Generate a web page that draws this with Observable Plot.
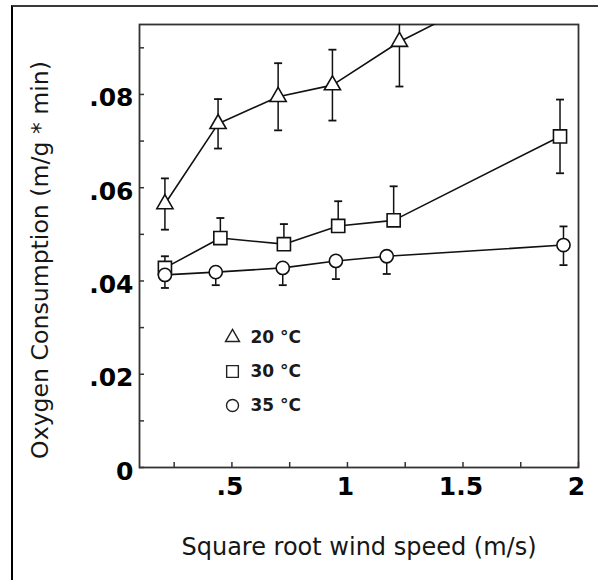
<!DOCTYPE html>
<html>
<head>
<meta charset="utf-8">
<script src="https://cdn.jsdelivr.net/npm/d3@7"></script>
<script src="https://cdn.jsdelivr.net/npm/@observablehq/plot@0.6"></script>
<style>
  body { margin: 0; background: #fff; }
  #chart { position: relative; width: 598px; height: 580px; overflow: hidden; background: #fff; }
  #chart svg { position: absolute; }
  .edge { position: absolute; left: 11px; top: 5px; width: 700px; height: 700px;
          border-left: 2px solid #000; border-top: 2px solid #3a3a3a; pointer-events: none; }
</style>
</head>
<body>
<div id="chart"></div>
<script>
// Oxygen consumption versus square root of wind speed, three air temperatures
const temps = ["20 °C", "30 °C", "35 °C"];

const speed20 = [0.21, 0.44, 0.70, 0.935, 1.225, 1.93];
const oxy20   = [0.0565, 0.0737, 0.0795, 0.0820, 0.0913, 0.109];
const up20    = [0.0055, 0.0053, 0.0072, 0.0076, 0.0096, 0.0100];
const down20  = [0.0055, 0.0053, 0.0072, 0.0076, 0.0096, 0.0100];

const speed30 = [0.21, 0.45, 0.725, 0.96, 1.20, 1.92];
const oxy30   = [0.0428, 0.0492, 0.0479, 0.0518, 0.0530, 0.0710];
const up30    = [0.0025, 0.0043, 0.0043, 0.0053, 0.0073, 0.0079];
const down30  = [0, 0, 0, 0, 0, 0.0079];

const speed35 = [0.21, 0.43, 0.72, 0.95, 1.17, 1.935];
const oxy35   = [0.0413, 0.0419, 0.0428, 0.0443, 0.0453, 0.0477];
const up35    = [0, 0, 0, 0, 0, 0.0040];
const down35  = [0.0028, 0.0028, 0.0037, 0.0039, 0.0038, 0.0043];

const xMajor = [0.5, 1, 1.5, 2];
const xMinor = [0.25, 0.75, 1.25, 1.75];
const yMajor = [0, 0.02, 0.04, 0.06, 0.08];
const yMinor = [0.01, 0.03, 0.05, 0.07, 0.09];

const xTitle = "Square root wind speed (m/s)";
const yTitle = "Oxygen Consumption (m/g * min)";

const series = [
  {temp: temps[0], x: speed20, y: oxy20, up: up20, down: down20},
  {temp: temps[1], x: speed30, y: oxy30, up: up30, down: down30},
  {temp: temps[2], x: speed35, y: oxy35, up: up35, down: down35}
];
const rows = series.flatMap(s => s.x.map((x, i) => ({
  temp: s.temp, x, y: s.y[i], hi: s.y[i] + s.up[i], lo: s.y[i] - s.down[i]
})));

// marker style per temperature
const look = {
  [temps[0]]: {symbol: "triangle", r: 6.0, legendR: 5.2},
  [temps[1]]: {symbol: "square", r: 7.4, legendR: 6.6},
  [temps[2]]: {symbol: "circle", r: 6.6, legendR: 6.0}
};

// short horizontal stroke used as an error-bar cap
const cap = {
  draw(context, size) {
    const w = Math.sqrt(size) / 2;
    context.moveTo(-w, 0);
    context.lineTo(w, 0);
  }
};

const ink = "#111";
const tick = 5;
const numFont = {fontFamily: "DejaVu Sans", fontWeight: "bold", fontSize: 25, fill: "#000"};
const titleFont = {fontFamily: "DejaVu Sans", fontSize: 24, fill: "#161616"};
const yFormat = d => d === 0 ? "0" : d3.format(".2f")(d).replace(/^0/, "");
const xFormat = d => d < 1 ? d3.format(".1f")(d).replace(/^0/, "") : String(d);

const chart = Plot.plot({
  width: 598,
  height: 580,
  marginLeft: 139,
  marginRight: 20,
  marginTop: 24,
  marginBottom: 113,
  style: {background: "transparent", fontFamily: "DejaVu Sans"},
  x: {domain: [0.1, 2]},
  y: {domain: [0, 0.095]},
  marks: [
    // tick marks, shifted so they sit just inside the frame
    Plot.axisX([...xMajor, ...xMinor], {tickSize: tick, dy: -tick, fill: "none", stroke: "#333", strokeWidth: 1.5, label: null}),
    Plot.axisY([...yMajor, ...yMinor], {tickSize: tick, dx: tick, fill: "none", stroke: "#333", strokeWidth: 1.5, label: null}),
    // tick labels
    Plot.axisX(xMajor, {tickSize: 0, tickPadding: 10, dx: -2, tickFormat: xFormat, label: null, ...numFont}),
    Plot.axisY(yMajor, {tickSize: 0, tickPadding: 6, dy: 4, tickFormat: yFormat, label: null, ...numFont}),
    // axis titles
    Plot.axisX([], {tickSize: 0, label: xTitle, labelAnchor: "center", labelArrow: "none", labelOffset: 87, dx: -3, ...titleFont}),
    Plot.text([yTitle], {
      text: d => d, frameAnchor: "left", rotate: -90, textAnchor: "middle", lineAnchor: "middle",
      dx: -99, dy: 14, ...titleFont, fontSize: 23.6
    }),
    Plot.frame({stroke: "#333", strokeWidth: 1.8}),
    // error bars
    Plot.ruleX(rows, {x: "x", y1: "lo", y2: "hi", stroke: ink, strokeWidth: 1.5, clip: true}),
    Plot.dot(rows.filter(d => d.hi > d.y), {x: "x", y: "hi", symbol: cap, r: 4.5, stroke: ink, strokeWidth: 1.8, clip: true}),
    Plot.dot(rows.filter(d => d.lo < d.y), {x: "x", y: "lo", symbol: cap, r: 4.5, stroke: ink, strokeWidth: 1.8, clip: true}),
    // connecting lines
    Plot.line(rows, {x: "x", y: "y", z: "temp", stroke: ink, strokeWidth: 1.6, clip: true}),
    // open markers
    ...temps.map(t => Plot.dot(rows.filter(d => d.temp === t), {
      x: "x", y: "y", symbol: look[t].symbol, r: look[t].r,
      fill: "white", stroke: ink, strokeWidth: 1.6, clip: true
    }))
  ]
});
chart.style.left = "0px";
chart.style.top = "0px";

// key listing the three temperatures
const key = Plot.plot({
  width: 120,
  height: 110,
  marginTop: 21,
  marginBottom: 20,
  marginLeft: 17,
  marginRight: 0,
  style: {background: "transparent"},
  x: {axis: null, domain: [0, 1]},
  y: {type: "point", domain: temps, padding: 0, axis: null},
  marks: [
    ...temps.map(t => Plot.dot([t], {
      y: d => d, frameAnchor: "left", symbol: look[t].symbol, r: look[t].legendR,
      fill: "white", stroke: "#222", strokeWidth: 1.4
    })),
    Plot.text(temps, {
      y: d => d, text: d => d, frameAnchor: "left", dx: 18, textAnchor: "start",
      fontFamily: "DejaVu Sans", fontWeight: "bold", fontSize: 17, fill: "#1a1a1a"
    })
  ]
});
key.style.left = "215px";
key.style.top = "315px";

const box = document.getElementById("chart");
box.append(chart, key);
const edge = document.createElement("div");
edge.className = "edge";
box.append(edge);
</script>
</body>
</html>
